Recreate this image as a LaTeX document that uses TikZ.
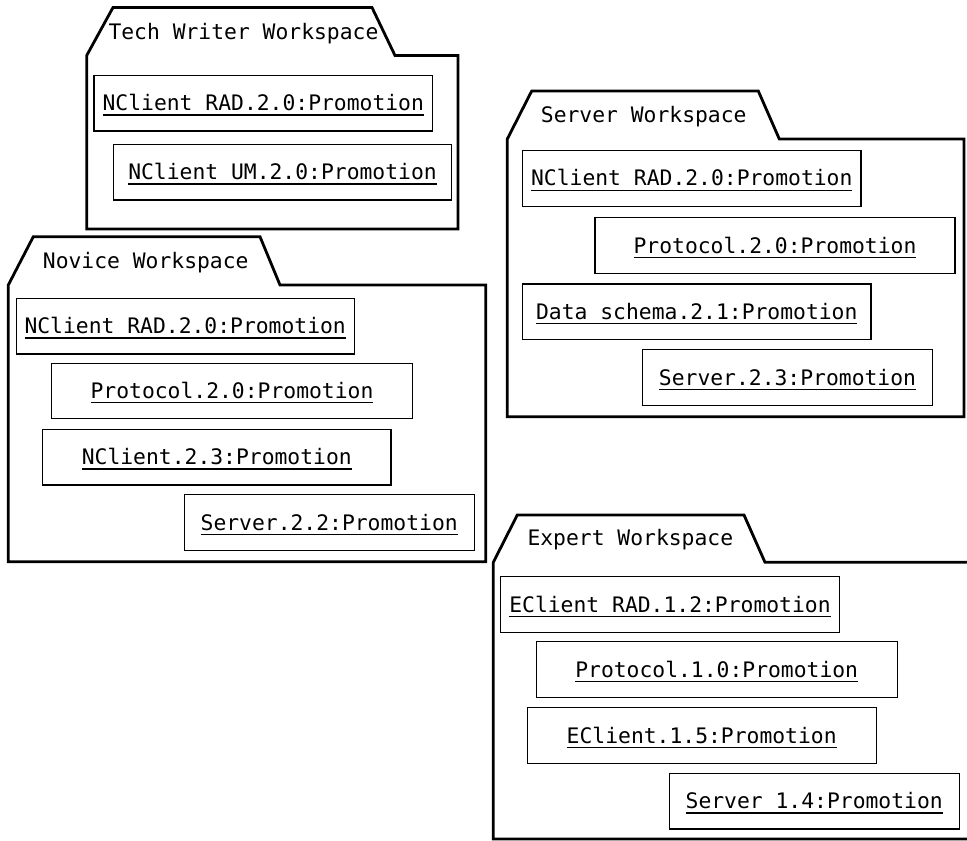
\documentclass[tikz,border=0pt]{standalone}
\usepackage{fontspec}
\setmainfont{DejaVu Sans Mono}
\newsavebox\ulsave
\newcommand\ultext[1]{\sbox\ulsave{#1}\rlap{\rule[-4.8pt]{\wd\ulsave}{1.1pt}}\usebox\ulsave}
\begin{document}
\begin{tikzpicture}[x=1pt,y=-1pt,
  pkg/.style={line width=2.8pt, line join=miter},
  inst/.style={draw, line width=1.1pt, minimum height=55.5pt, inner sep=0pt,
    text height=15pt, text depth=0pt, font=\fontsize{21.35}{25}\selectfont},
  tabtext/.style={anchor=base west, inner sep=0pt, font=\fontsize{21.35}{25}\selectfont}]
\useasboundingbox (0,0) rectangle (967,841);
\path[clip] (0,0) rectangle (967,841);
\fill[white] (0,0) rectangle (967,841);

% Tech Writer Workspace
\draw[pkg] (395,55.5) -- (372,7.5) -- (113,7.5) -- (86.7,55.5) -- (86.7,229) -- (458,229) -- (458,55.5) -- cycle;
\node[tabtext] (ttech) at (108.3,39.3) {Tech Writer Workspace};
\node[inst, minimum width=338.7pt] (t1) at (263.3,103.2) {\ultext{NClient RAD.2.0:Promotion}};
\node[inst, minimum width=338.4pt] (t2) at (282.5,172.2) {\ultext{NClient UM.2.0:Promotion}};

% Novice Workspace
\draw[pkg] (280,285) -- (260,236.7) -- (33.3,236.7) -- (8.3,285) -- (8.3,561.7) -- (485.7,561.7) -- (485.7,285) -- cycle;
\node[tabtext] (tnov) at (42.7,268.3) {Novice Workspace};
\node[inst, minimum width=338.3pt] (n1) at (185.2,326.2) {\ultext{NClient RAD.2.0:Promotion}};
\node[inst, minimum width=360.6pt] (n2) at (232,390.8) {\ultext{Protocol.2.0:Promotion}};
\node[inst, minimum width=348.3pt] (n3) at (216.8,457.2) {\ultext{NClient.2.3:Promotion}};
\node[inst, minimum width=289.7pt] (n4) at (329.2,522.5) {\ultext{Server.2.2:Promotion}};

% Server Workspace
\draw[pkg] (779.3,139) -- (758.3,91) -- (531.7,91) -- (507.3,139) -- (507.3,416.7) -- (964,416.7) -- (964,139) -- cycle;
\node[tabtext] (tsrv) at (540.7,122.3) {Server Workspace};
\node[inst, minimum width=338.3pt] (s1) at (691.8,178.3) {\ultext{NClient RAD.2.0:Promotion}};
\node[inst, minimum width=360pt] (s2) at (775,245.5) {\ultext{Protocol.2.0:Promotion}};
\node[inst, minimum width=348.3pt] (s3) at (696.8,311.7) {\ultext{Data schema.2.1:Promotion}};
\node[inst, minimum width=289.6pt] (s4) at (787.5,377.5) {\ultext{Server.2.3:Promotion}};

% Expert Workspace
\draw[pkg] (765,562.3) -- (744,515) -- (517.3,515) -- (493.3,562.3) -- (493.3,839) -- (980,839) -- (980,562.3) -- cycle;
\node[tabtext] (texp) at (527.3,545.7) {Expert Workspace};
\node[inst, minimum width=338.6pt] (e1) at (670,604.5) {\ultext{EClient RAD.1.2:Promotion}};
\node[inst, minimum width=361.3pt] (e2) at (716.7,669.5) {\ultext{Protocol.1.0:Promotion}};
\node[inst, minimum width=348.7pt] (e3) at (701.7,735.5) {\ultext{EClient.1.5:Promotion}};
\node[inst, minimum width=289.7pt] (e4) at (814.2,801.2) {\ultext{Server 1.4:Promotion}};
\end{tikzpicture}
\end{document}
